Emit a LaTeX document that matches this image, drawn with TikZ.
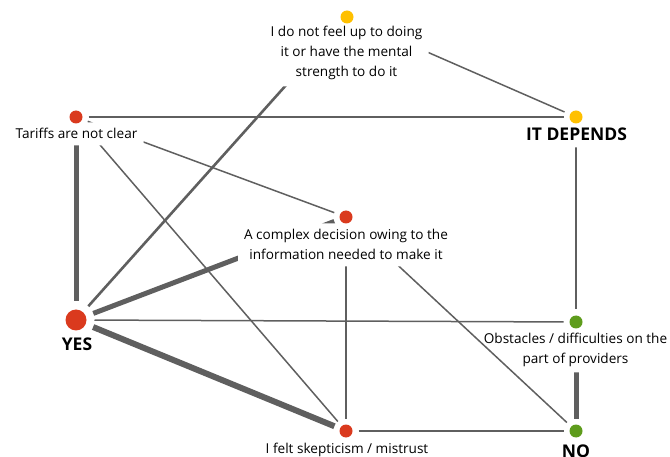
\documentclass[tikz,border=0pt]{standalone}
\usepackage{fontspec}
\setmainfont{Open Sans}
\usetikzlibrary{positioning}
\definecolor{dotred}{HTML}{DA3A1E}
\definecolor{dotyellow}{HTML}{FFC000}
\definecolor{dotgreen}{HTML}{5E9C1C}
\definecolor{linkgray}{HTML}{5F5F5F}
\tikzset{
  rdot/.style={circle, fill=dotred, minimum size=13pt, inner sep=0pt, outer sep=6pt},
  ydot/.style={rdot, fill=dotyellow},
  gdot/.style={rdot, fill=dotgreen},
  bigdot/.style={rdot, minimum size=21pt, outer sep=8pt},
  lab/.style={align=center, inner sep=6pt, font=\fontsize{13.6}{20}\selectfont},
  answer/.style={inner sep=6pt, font=\fontsize{17.5}{20}\selectfont\bfseries},
  linkthin/.style={draw=linkgray, line width=1.5pt},
  linkmid/.style={linkthin, line width=2.6pt},
  linkheavy/.style={linkthin, line width=5pt},
  linkmax/.style={linkthin, line width=6pt}
}
% connector, cut where it runs under the labels of its two ends
\newcommand{\linkup}[3]{%
\begin{scope}[even odd rule]
\clip (-20,-20) rectangle (690,480)
  (l#2.south west) rectangle (l#2.north east)
  (l#3.south west) rectangle (l#3.north east);
\draw[#1] (#2) -- (#3);
\end{scope}}

\begin{document}
\begin{tikzpicture}[x=1pt,y=-1pt]
\useasboundingbox (0,0) rectangle (670,457);

%Top row (labels sit on the baseline of their last line)
\node[rdot] (tar) at (76,117){};
\node[lab,anchor=base] (ltar) at (76.5,139){Tariffs are not clear};
\node[ydot] (men) at (347,17){};
\node[lab,anchor=base] (lmen) at (346.5,77){I do not feel up to doing\\it or have the mental\\strength to do it};
\node[ydot] (dep) at (576,117){};
\node[answer,anchor=base] (ldep) at (576.5,141){IT DEPENDS};
%Middle
\node[rdot] (cpx) at (346,217){};
\node[lab,anchor=base] (lcpx) at (346,260){A complex decision owing to the\\information needed to make it};
\node[bigdot] (yes) at (76,320){};
\node[answer,anchor=base] (lyes) at (77,351){YES};
\node[gdot] (obs) at (576,322){};
\node[lab,anchor=base] (lobs) at (575.5,363){Obstacles / difficulties on the\\part of providers};
%Bottom row
\node[rdot] (ske) at (346,431){};
\node[lab,anchor=base] (lske) at (347,453){I felt skepticism / mistrust};
\node[gdot] (no) at (576,431){};
\node[answer,anchor=base] (lno) at (576,457){NO};

%connectors
\linkup{linkthin}{tar}{dep}
\linkup{linkheavy}{tar}{yes}
\linkup{linkthin}{tar}{cpx}
\linkup{linkthin}{tar}{ske}
\linkup{linkthin}{men}{dep}
\linkup{linkmid}{men}{yes}
\linkup{linkthin}{dep}{obs}
\linkup{linkheavy}{cpx}{yes}
\linkup{linkthin}{cpx}{ske}
\linkup{linkthin}{cpx}{no}
\linkup{linkthin}{yes}{obs}
\linkup{linkmax}{yes}{ske}
\linkup{linkheavy}{obs}{no}
\linkup{linkmid}{ske}{no}

\end{tikzpicture}
\end{document}
